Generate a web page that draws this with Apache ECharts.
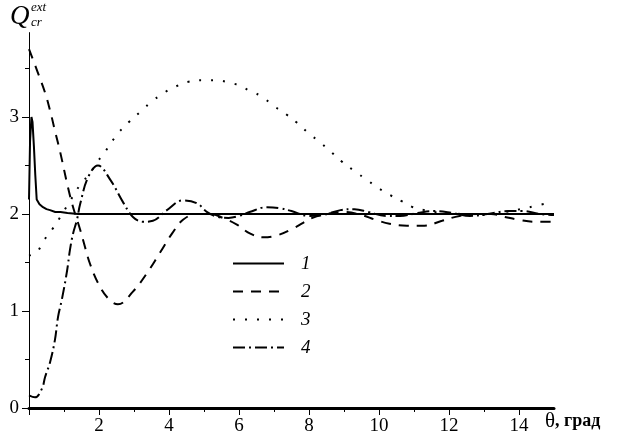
<!DOCTYPE html>
<html>
<head>
<meta charset="utf-8">
<script src="https://cdn.jsdelivr.net/npm/echarts@6/dist/echarts.min.js"></script>
<style>
  html, body { margin: 0; padding: 0; background: #fff; }
</style>
</head>
<body>
<div style="width:622px;height:444px;" id="qext"></div>
<script>
// values
const seriesNames = ['1', '2', '3', '4'];
const xTicks = [0, 2, 4, 6, 8, 10, 12, 14];
const xMinorTicks = [1, 3, 5, 7, 9, 11, 13];
const yTicks = [0, 1, 2, 3];
const yMinorTicks = [0.5, 1.5, 2.5, 3.5];

const theta1 = [0, 0.03, 0.07, 0.1, 0.14, 0.18, 0.22, 0.3, 0.4, 0.5, 0.6, 0.75, 0.9, 1.1, 1.4, 3, 6, 9, 12, 15];
const q1 = [2.15, 2.75, 3.0, 2.95, 2.7, 2.4, 2.15, 2.1, 2.07, 2.05, 2.04, 2.02, 2.02, 2.01, 2.0, 2.0, 2.0, 2.0, 2.0, 2.0];

const theta2 = [0, 0.26, 0.46, 0.6, 0.74, 0.89, 1.11, 1.26, 1.46, 1.6, 1.74, 1.97, 2.26, 2.54, 2.97, 3.37, 3.74, 4.09, 4.4, 4.8,
    5.17, 5.54, 5.94, 6.31, 6.69, 7.09, 7.54, 8.1, 8.5, 9.0, 9.5, 9.9, 10.3, 10.8, 11.3, 11.8, 12.3, 12.8, 13.2, 13.6, 14.0, 14.5, 15];
const q2 = [3.7, 3.45, 3.25, 3.07, 2.86, 2.64, 2.28, 2.07, 1.84, 1.66, 1.49, 1.29, 1.13, 1.07, 1.2, 1.39, 1.6, 1.8, 1.94, 2.0,
    2.0, 1.96, 1.89, 1.8, 1.76, 1.78, 1.85, 1.96, 2.0, 2.02, 1.99, 1.94, 1.9, 1.88, 1.88, 1.93, 1.98, 2.0, 2.0, 1.97, 1.94, 1.92, 1.92];

const theta3 = [0, 0.23, 0.43, 0.66, 0.86, 1.15, 1.46, 1.74, 1.94, 2.17, 2.54, 2.89, 3.2, 3.51, 3.86, 4.17, 4.51, 5.0, 5.34, 5.66,
    5.97, 6.31, 6.66, 6.97, 7.34, 7.66, 7.97, 8.31, 8.63, 8.94, 9.31, 9.66, 9.97, 10.29, 10.66, 10.97, 11.3, 11.8, 12.4, 13.0, 13.6, 14.3, 14.8];
const q3 = [1.57, 1.61, 1.73, 1.84, 1.95, 2.12, 2.3, 2.42, 2.53, 2.64, 2.83, 2.96, 3.06, 3.16, 3.25, 3.31, 3.36, 3.38, 3.38, 3.36,
    3.33, 3.27, 3.21, 3.12, 3.03, 2.94, 2.84, 2.74, 2.64, 2.54, 2.44, 2.35, 2.27, 2.2, 2.13, 2.07, 2.04, 2.01, 2.0, 1.99, 2.02, 2.07, 2.11];

const theta4 = [0, 0.17, 0.37, 0.46, 0.6, 0.74, 0.83, 0.94, 1.09, 1.17, 1.26, 1.37, 1.46, 1.69, 1.97, 2.31, 2.69, 2.97, 3.26, 3.54,
    3.94, 4.4, 4.8, 5.09, 5.4, 5.7, 6.0, 6.3, 6.8, 7.17, 7.5, 8.0, 8.4, 8.9, 9.3, 9.7, 10.2, 10.6, 11.1, 11.6, 12.1, 12.6, 13.1, 13.7, 14.1, 14.6, 15];
const q4 = [0.13, 0.11, 0.2, 0.32, 0.47, 0.7, 0.94, 1.12, 1.42, 1.63, 1.8, 1.94, 2.1, 2.38, 2.5, 2.36, 2.12, 1.97, 1.92, 1.93,
    2.04, 2.14, 2.11, 2.02, 1.97, 1.96, 1.98, 2.02, 2.07, 2.06, 2.03, 1.98, 1.99, 2.04, 2.05, 2.02, 1.98, 1.98, 2.01, 2.03, 2.01, 1.98, 2.0, 2.03, 2.03, 2.0, 1.99];

const serif = 'Liberation Serif';

function pairs(xs, ys) {
    return xs.map((x, i) => [x, ys[i]]);
}

function curve(name, xs, ys, type, smooth) {
    return {
        name: name,
        type: 'line',
        xAxisIndex: 0,
        yAxisIndex: 0,
        data: pairs(xs, ys),
        symbol: 'none',
        smooth: smooth,
        animation: false,
        itemStyle: {color: '#000'},
        lineStyle: {color: '#000', width: 2, type: type}
    };
}

const option = {
    backgroundColor: '#fff',
    animation: false,
    grid: {left: 29, right: 68, top: 408 - 3.87 * 97, bottom: 36},
    legend: {
        orient: 'vertical',
        left: 232,
        top: 254,
        padding: 0,
        itemWidth: 51,
        itemHeight: 14,
        itemGap: 9,
        data: seriesNames,
        itemStyle: {opacity: 0},
        textStyle: {fontFamily: serif, fontStyle: 'italic', fontSize: 19, color: '#000', padding: [0, 0, 0, 12]}
    },
    xAxis: [
        {
            type: 'value',
            min: 0,
            max: 15,
            interval: 2,
            splitLine: {show: false},
            axisLine: {lineStyle: {color: '#000', width: 3}},
            axisTick: {customValues: xTicks, length: 7, lineStyle: {color: '#000', width: 1}},
            axisLabel: {
                customValues: xTicks.filter(v => v !== 0),
                margin: 9,
                fontFamily: serif,
                fontSize: 19,
                color: '#000'
            },
            name: '{t|θ}{g|, град}',
            nameLocation: 'end',
            nameGap: -9,
            nameTextStyle: {
                verticalAlign: 'top',
                padding: [3, 0, 0, 0],
                rich: {
                    t: {fontFamily: serif, fontSize: 21, color: '#000'},
                    g: {fontFamily: serif, fontSize: 18, fontWeight: 'bold', color: '#000'}
                }
            }
        },
        {
            type: 'value',
            min: 0,
            max: 15,
            position: 'bottom',
            splitLine: {show: false},
            axisLine: {show: false},
            axisLabel: {show: false},
            axisTick: {customValues: xMinorTicks, length: 4, lineStyle: {color: '#000', width: 1}}
        }
    ],
    yAxis: [
        {
            type: 'value',
            min: 0,
            max: 3.87,
            interval: 1,
            splitLine: {show: false},
            axisLine: {show: true, lineStyle: {color: '#000', width: 1}},
            axisTick: {show: true, customValues: yTicks, length: 7, lineStyle: {color: '#000', width: 1}},
            axisLabel: {customValues: yTicks, margin: 10, fontFamily: serif, fontSize: 19, color: '#000'}
        },
        {
            type: 'value',
            min: 0,
            max: 3.87,
            position: 'left',
            splitLine: {show: false},
            axisLine: {show: false},
            axisLabel: {show: false},
            axisTick: {show: true, customValues: yMinorTicks, length: 4, lineStyle: {color: '#000', width: 1}}
        }
    ],
    graphic: [
        {type: 'text', left: 10, top: 3, style: {text: 'Q', font: 'italic 27px "Liberation Serif"', fill: '#000'}},
        {type: 'text', left: 31, top: 1, style: {text: 'ext', font: 'italic 13px "Liberation Serif"', fill: '#000'}},
        {type: 'text', left: 31, top: 16, style: {text: 'cr', font: 'italic 13px "Liberation Serif"', fill: '#000'}}
    ],
    series: [
        curve('1', theta1, q1, 'solid', false),
        curve('2', theta2, q2, [10, 8], 0.4),
        curve('3', theta3, q3, [2, 10], 0.4),
        curve('4', theta4, q4, [12, 4, 2, 4], 0.4)
    ]
};

let chart = echarts.init(document.getElementById('qext'));
chart.setOption(option);
</script>
</body>
</html>
